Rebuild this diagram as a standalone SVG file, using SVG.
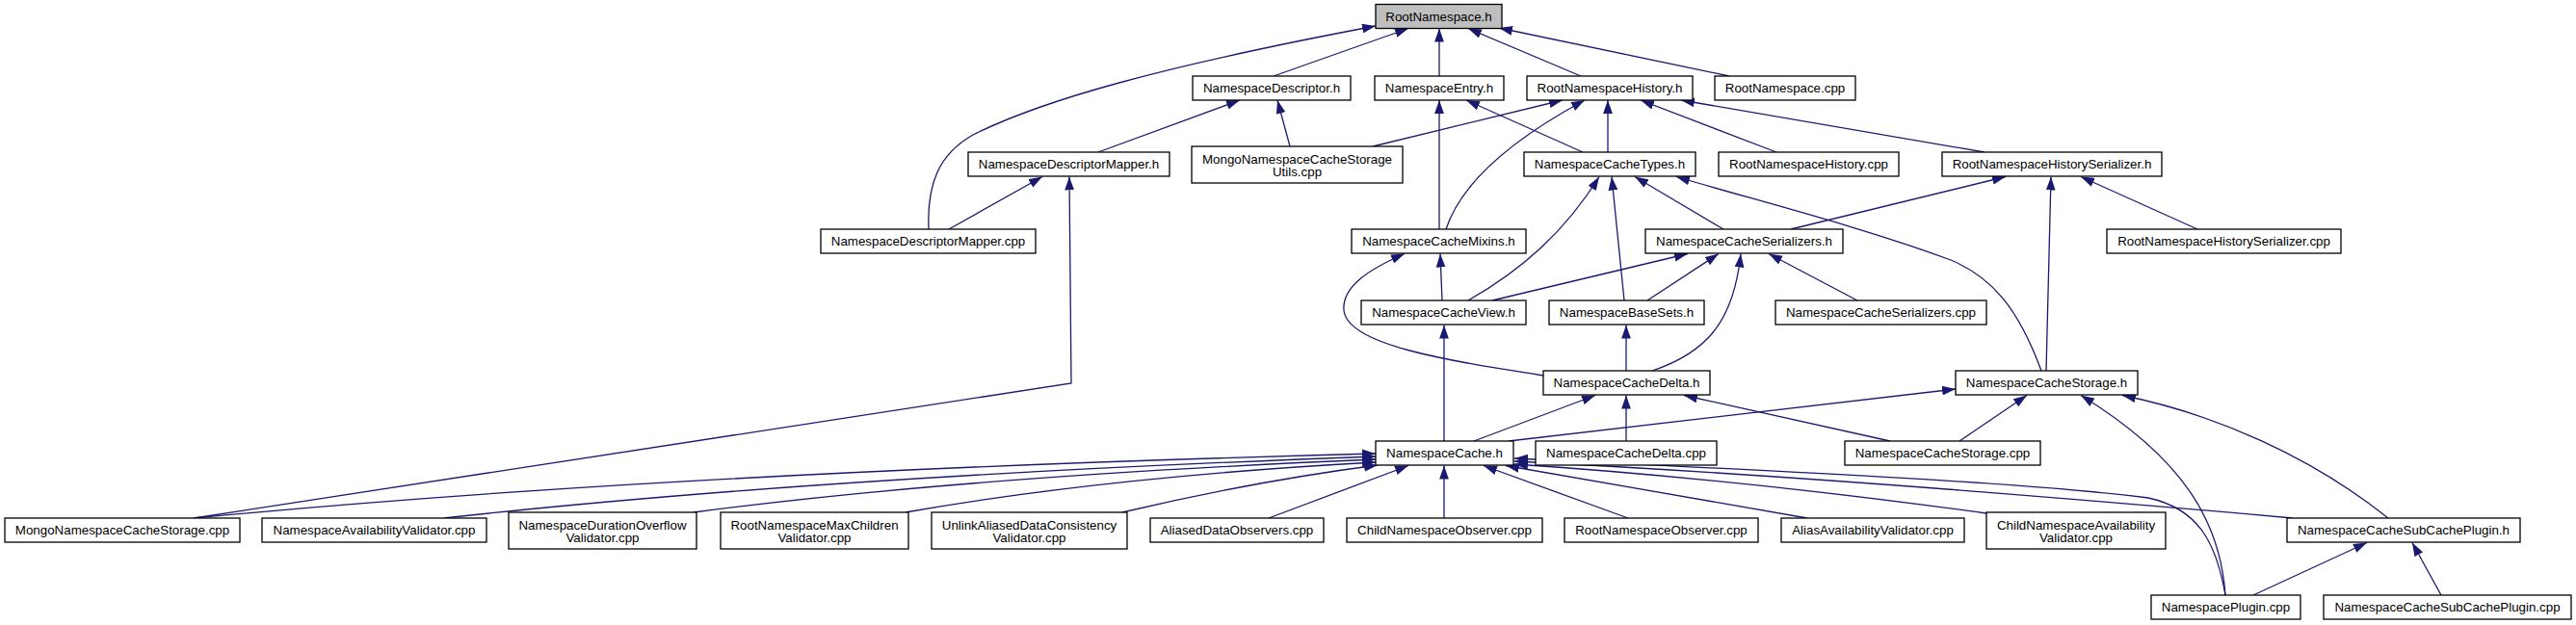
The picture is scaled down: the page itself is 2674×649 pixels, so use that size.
<svg xmlns="http://www.w3.org/2000/svg" width="2674" height="649" viewBox="0 0 2674 649">
<style>
.n rect{fill:#fff;stroke:#000;stroke-width:1.3}
.n.root rect{fill:#bfbfbf}
.n text{font-family:"Liberation Sans",Arial,Helvetica,sans-serif;font-size:13.33px;text-anchor:middle;fill:#000}
#edges path{fill:none;stroke:#191970;stroke-width:1.3;marker-end:url(#a)}
</style>
<defs>
<marker id="a" markerUnits="userSpaceOnUse" markerWidth="14" markerHeight="10" viewBox="0 0 10 7" refX="10" refY="3.5" orient="auto"><path d="M0,0L10,3.5L0,7z" fill="#191970"/></marker>
</defs>
<rect width="2674" height="649" fill="#fff"/>
<g id="edges">
<path d="M964,238 C962,190 975,160 1010,140 C1080,105 1200,70 1428,27"/>
<path d="M1322,79 L1462,29.5"/>
<path d="M1494,79 L1494,29.5"/>
<path d="M1641,79 L1524,29.5"/>
<path d="M1795,79 L1556,29"/>
<path d="M1140,158 L1287,104"/>
<path d="M1339,152 L1326,104"/>
<path d="M1494,238 L1494,104"/>
<path d="M1643,158 L1522,104"/>
<path d="M1425,152 L1622,104"/>
<path d="M1501,238 C1515,195 1560,150 1645,104"/>
<path d="M1669,158 L1669,104"/>
<path d="M1844,158 L1703,104"/>
<path d="M2060,158 L1745,104"/>
<path d="M985,238 L1082,183.5"/>
<path d="M201,538 L1112,398 L1110,183.5"/>
<path d="M1524,312 C1580,280 1625,240 1660,183.5"/>
<path d="M1686,312 L1673,183.5"/>
<path d="M1789,238 L1697,183.5"/>
<path d="M2119,385 C2095,320 2068,288 2025,270 C1930,235 1830,210 1740,183.5"/>
<path d="M1859,238 L2082,183.5"/>
<path d="M2124,385 L2129,183.5"/>
<path d="M2281,238 L2160,183.5"/>
<path d="M1549,312 L1752,263.5"/>
<path d="M1710,312 L1784,263.5"/>
<path d="M1715,385 C1775,365 1800,330 1807,263.5"/>
<path d="M1928,312 L1836,263.5"/>
<path d="M1497,312 L1495,263.5"/>
<path d="M1602,390 C1500,374 1398,358 1395,322 C1393,298 1420,280 1458,263.5"/>
<path d="M1499,458 L1499,337.5"/>
<path d="M1688,385 L1688,337.5"/>
<path d="M1530,458 L1656,410.5"/>
<path d="M1688,458 L1688,410.5"/>
<path d="M1962,458 L1748,410.5"/>
<path d="M1566,458 L2030,404"/>
<path d="M2034,458 L2104,410.5"/>
<path d="M2310,618 C2305,545 2270,478 2160,410.5"/>
<path d="M2479,538 C2400,475 2300,430 2203,410.5"/>
<path d="M201,538 Q700,490 1428,471"/>
<path d="M461,538 Q850,495 1428,474"/>
<path d="M720,532 Q1000,495 1428,477"/>
<path d="M940,532 Q1150,495 1428,480"/>
<path d="M1165,532 Q1300,500 1430,483"/>
<path d="M1317,538 L1462,483.5"/>
<path d="M1499,538 L1499,483.5"/>
<path d="M1690,538 L1540,483.5"/>
<path d="M1876,538 L1563,483.5"/>
<path d="M2062,533 Q1800,497 1572,482"/>
<path d="M2380,538 Q1900,495 1572,479"/>
<path d="M2310,618 C2300,560 2280,528 2230,517 C2100,500 1800,487 1572,476"/>
<path d="M2339,618 L2457,563.5"/>
<path d="M2534,618 L2504,563.5"/>
</g>
<g id="n_root" class="n root"><rect x="1428" y="4.5" width="131" height="25"/><text x="1493.5" y="21.5">RootNamespace.h</text></g>
<g id="n_nd_h" class="n"><rect x="1238" y="79" width="164" height="25"/><text x="1320" y="96">NamespaceDescriptor.h</text></g>
<g id="n_ne_h" class="n"><rect x="1427" y="79" width="134" height="25"/><text x="1494" y="96">NamespaceEntry.h</text></g>
<g id="n_rnh_h" class="n"><rect x="1585" y="79" width="172" height="25"/><text x="1671" y="96">RootNamespaceHistory.h</text></g>
<g id="n_rn_cpp" class="n"><rect x="1780" y="79" width="146" height="25"/><text x="1853" y="96">RootNamespace.cpp</text></g>
<g id="n_ndm_h" class="n"><rect x="1005" y="158" width="209" height="25"/><text x="1109.5" y="175">NamespaceDescriptorMapper.h</text></g>
<g id="n_utils" class="n"><rect x="1237" y="152" width="219" height="38"/><text x="1346.5" y="169.5">MongoNamespaceCacheStorage</text><text x="1346.5" y="182.5">Utils.cpp</text></g>
<g id="n_types" class="n"><rect x="1582" y="158" width="178" height="25"/><text x="1671" y="175">NamespaceCacheTypes.h</text></g>
<g id="n_rnh_cpp" class="n"><rect x="1784" y="158" width="187" height="25"/><text x="1877.5" y="175">RootNamespaceHistory.cpp</text></g>
<g id="n_rnhs_h" class="n"><rect x="2016" y="158" width="228" height="25"/><text x="2130" y="175">RootNamespaceHistorySerializer.h</text></g>
<g id="n_ndm_cpp" class="n"><rect x="852" y="238" width="223" height="25"/><text x="963.5" y="255">NamespaceDescriptorMapper.cpp</text></g>
<g id="n_mixins" class="n"><rect x="1403" y="238" width="181" height="25"/><text x="1493.5" y="255">NamespaceCacheMixins.h</text></g>
<g id="n_ser_h" class="n"><rect x="1708" y="238" width="205" height="25"/><text x="1810.5" y="255">NamespaceCacheSerializers.h</text></g>
<g id="n_rnhs_cpp" class="n"><rect x="2187" y="238" width="243" height="25"/><text x="2308.5" y="255">RootNamespaceHistorySerializer.cpp</text></g>
<g id="n_view" class="n"><rect x="1413" y="312" width="171" height="25"/><text x="1498.5" y="329">NamespaceCacheView.h</text></g>
<g id="n_basesets" class="n"><rect x="1608" y="312" width="161" height="25"/><text x="1688.5" y="329">NamespaceBaseSets.h</text></g>
<g id="n_ser_cpp" class="n"><rect x="1843" y="312" width="219" height="25"/><text x="1952.5" y="329">NamespaceCacheSerializers.cpp</text></g>
<g id="n_delta_h" class="n"><rect x="1602" y="385" width="173" height="25"/><text x="1688.5" y="402">NamespaceCacheDelta.h</text></g>
<g id="n_storage_h" class="n"><rect x="2030" y="385" width="189" height="25"/><text x="2124.5" y="402">NamespaceCacheStorage.h</text></g>
<g id="n_cache_h" class="n"><rect x="1428" y="458" width="143" height="25"/><text x="1499.5" y="475">NamespaceCache.h</text></g>
<g id="n_delta_cpp" class="n"><rect x="1594" y="458" width="188" height="25"/><text x="1688" y="475">NamespaceCacheDelta.cpp</text></g>
<g id="n_storage_cpp" class="n"><rect x="1915" y="458" width="203" height="25"/><text x="2016.5" y="475">NamespaceCacheStorage.cpp</text></g>
<g id="n_mongo_cpp" class="n"><rect x="5" y="538" width="244" height="25"/><text x="127" y="555">MongoNamespaceCacheStorage.cpp</text></g>
<g id="n_nav" class="n"><rect x="272" y="538" width="233" height="25"/><text x="388.5" y="555">NamespaceAvailabilityValidator.cpp</text></g>
<g id="n_duration" class="n"><rect x="528" y="532" width="195" height="38"/><text x="625.5" y="549.5">NamespaceDurationOverflow</text><text x="625.5" y="562.5">Validator.cpp</text></g>
<g id="n_maxchildren" class="n"><rect x="748" y="532" width="195" height="38"/><text x="845.5" y="549.5">RootNamespaceMaxChildren</text><text x="845.5" y="562.5">Validator.cpp</text></g>
<g id="n_unlink" class="n"><rect x="967" y="532" width="203" height="38"/><text x="1068.5" y="549.5">UnlinkAliasedDataConsistency</text><text x="1068.5" y="562.5">Validator.cpp</text></g>
<g id="n_aliased_obs" class="n"><rect x="1194" y="538" width="180" height="25"/><text x="1284" y="555">AliasedDataObservers.cpp</text></g>
<g id="n_child_obs" class="n"><rect x="1398" y="538" width="203" height="25"/><text x="1499.5" y="555">ChildNamespaceObserver.cpp</text></g>
<g id="n_root_obs" class="n"><rect x="1624" y="538" width="201" height="25"/><text x="1724.5" y="555">RootNamespaceObserver.cpp</text></g>
<g id="n_alias_avail" class="n"><rect x="1849" y="538" width="190" height="25"/><text x="1944" y="555">AliasAvailabilityValidator.cpp</text></g>
<g id="n_child_avail" class="n"><rect x="2062" y="532" width="186" height="38"/><text x="2155" y="549.5">ChildNamespaceAvailability</text><text x="2155" y="562.5">Validator.cpp</text></g>
<g id="n_subcache_h" class="n"><rect x="2374" y="538" width="242" height="25"/><text x="2495" y="555">NamespaceCacheSubCachePlugin.h</text></g>
<g id="n_plugin_cpp" class="n"><rect x="2233" y="618" width="155" height="25"/><text x="2310.5" y="635">NamespacePlugin.cpp</text></g>
<g id="n_subcache_cpp" class="n"><rect x="2412" y="618" width="257" height="25"/><text x="2540.5" y="635">NamespaceCacheSubCachePlugin.cpp</text></g>
</svg>
